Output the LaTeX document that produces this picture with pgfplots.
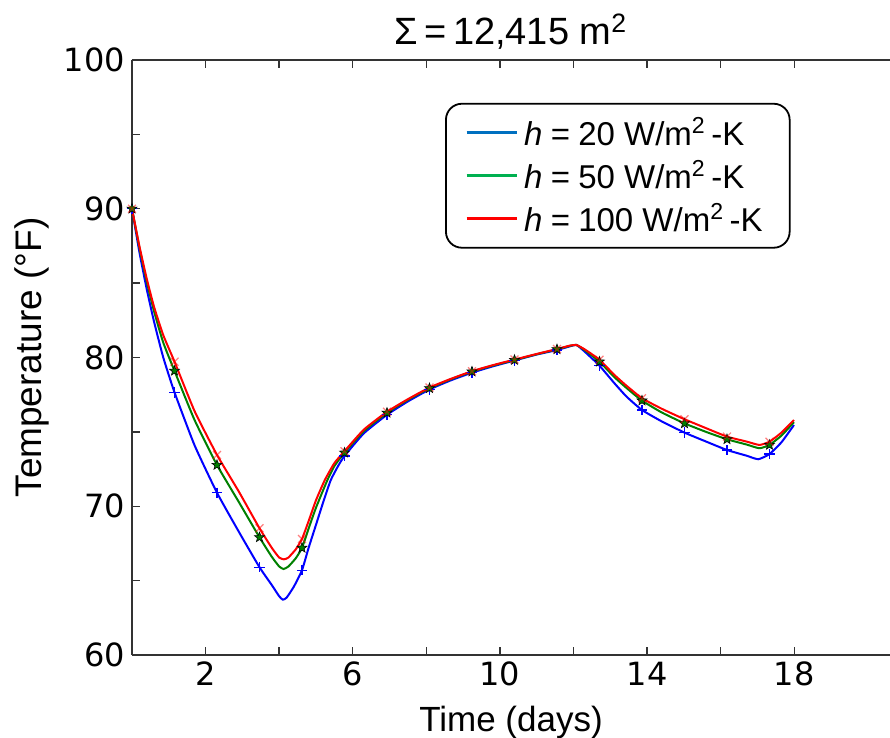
\documentclass[border=0pt]{standalone}
\usepackage{fontspec}
\setmainfont{Liberation Sans}
\newfontfamily\dejavu{DejaVu Sans}
\usepackage{pgfplots}
\pgfplotsset{compat=1.18}

\definecolor{mblue}{rgb}{0,0,1}
\definecolor{mgreen}{rgb}{0,0.5,0}
\definecolor{mred}{rgb}{1,0,0}
\definecolor{lblue}{HTML}{0070C0}
\definecolor{lgreen}{HTML}{00B050}
\definecolor{lred}{HTML}{FF0000}

% filled five-pointed star (matplotlib '*')
\pgfdeclareplotmark{fstar}{%
  \pgfpathmoveto{\pgfpointpolar{90}{\pgfplotmarksize}}%
  \pgfpathlineto{\pgfpointpolar{126}{0.42\pgfplotmarksize}}%
  \pgfpathlineto{\pgfpointpolar{162}{\pgfplotmarksize}}%
  \pgfpathlineto{\pgfpointpolar{198}{0.42\pgfplotmarksize}}%
  \pgfpathlineto{\pgfpointpolar{234}{\pgfplotmarksize}}%
  \pgfpathlineto{\pgfpointpolar{270}{0.42\pgfplotmarksize}}%
  \pgfpathlineto{\pgfpointpolar{306}{\pgfplotmarksize}}%
  \pgfpathlineto{\pgfpointpolar{342}{0.42\pgfplotmarksize}}%
  \pgfpathlineto{\pgfpointpolar{18}{\pgfplotmarksize}}%
  \pgfpathlineto{\pgfpointpolar{54}{0.42\pgfplotmarksize}}%
  \pgfpathclose
  \pgfusepathqfillstroke
}

\newcommand{\heq}{\textit{h}\hspace{0.25em}=\hspace{0.25em}}

\begin{document}
\begin{tikzpicture}
\begin{axis}[
    name=ax,
    scale only axis,
    width=379pt, height=297.5pt,
    xmin=0, xmax=20.6, ymin=60, ymax=100,
    axis x line=box, axis y line*=left,
    axis line style={black!80, line width=0.8pt},
    xtick={2,6,10,14,18}, minor xtick={4,8,12,16},
    ytick={60,70,80,90,100}, minor ytick={65,75,85,95},
    tick align=inside,
    major tick length=3.8pt, minor tick length=3.8pt,
    every tick/.style={black!80, line width=0.7pt},
    /pgf/number format/assume math mode=true,
    ticklabel style={font=\dejavu\fontsize{16}{19}\selectfont},
    xlabel={Time (days)},
    ylabel={Temperature (°F)},
    xlabel style={font=\fontsize{17.5}{21}\selectfont, at={(axis description cs:0.5,-0.128)}, anchor=base},
    ylabel style={font=\fontsize{18.5}{22}\selectfont, at={(axis description cs:-0.12,0.5)}, anchor=base},
    title={Σ\,=\,12,415 m\textsuperscript{2}},
    every axis title shift=0pt,
    title style={font=\fontsize{19}{22}\selectfont, at={(axis description cs:0.5,1)}, anchor=base, yshift=7.5pt},
    legend style={at={(0.413,0.928)}, anchor=north west, draw=black, line width=0.9pt,
        rounded corners=8pt, inner xsep=9.6pt, inner ysep=4.6pt,
        font=\fontsize{16.5}{19}\selectfont,
        nodes={inner sep=2.9pt, text height=13.5pt, text depth=0.5pt}, row sep=1.7pt},
    legend cell align=left,
    legend image code/.code={\draw[#1, line width=1.6pt] (0pt,0pt) -- (25pt,0pt);},
]
\addlegendimage{lblue}
\addlegendentry{\heq 20 W/m\textsuperscript{2}\,-K\hspace*{1pt}}
\addlegendimage{lgreen}
\addlegendentry{\heq 50 W/m\textsuperscript{2}\,-K\hspace*{1pt}}
\addlegendimage{lred}
\addlegendentry{\heq 100 W/m\textsuperscript{2}\,-K\hspace*{1pt}}

% h = 20
\addplot[mblue, line width=1pt, smooth, tension=0.3, forget plot] coordinates {
 (0,90) (0.2,87.1) (0.4,84.6) (0.6,82.4) (0.85,80.0) (1.155,77.66) (1.7,74.1)
 (2.31,70.91) (2.9,68.3) (3.465,65.9) (3.8,64.7) (4.0,63.95) (4.1,63.72) (4.2,63.85)
 (4.4,64.6) (4.62,65.7) (4.8,67.2) (5.0,68.75) (5.2,70.3) (5.4,71.75) (5.6,72.7)
 (5.775,73.38) (6.3,74.9) (6.93,76.15) (7.5,77.05) (8.085,77.85) (8.65,78.45)
 (9.24,78.98) (9.8,79.4) (10.395,79.8) (11.0,80.2) (11.55,80.5) (11.9,80.75)
 (12.08,80.84) (12.3,80.4) (12.705,79.45) (13.1,78.3) (13.44,77.37) (13.86,76.47)
 (14.4,75.7) (15.015,74.95) (15.6,74.35) (16.17,73.78) (16.7,73.4) (17.02,73.16)
 (17.325,73.51) (17.65,74.3) (17.99,75.46)};
\addplot[only marks, mark=+, mark size=2.6pt, mblue, mark options={line width=0.6pt}, forget plot] coordinates {
 (0,90) (1.155,77.66) (2.31,70.91) (3.465,65.9) (4.62,65.7) (5.775,73.38) (6.93,76.15)
 (8.085,77.85) (9.24,78.98) (10.395,79.8) (11.55,80.5) (12.705,79.45) (13.86,76.47)
 (15.015,74.95) (16.17,73.78) (17.325,73.51)};

% h = 50
\addplot[mgreen, line width=1pt, smooth, tension=0.3, forget plot] coordinates {
 (0,90) (0.2,87.4) (0.4,85.1) (0.6,83.1) (0.85,81.0) (1.155,79.1) (1.7,75.8)
 (2.31,72.77) (2.9,70.3) (3.465,67.91) (3.8,66.6) (4.0,65.95) (4.12,65.78) (4.25,65.95)
 (4.45,66.5) (4.62,67.2) (4.8,68.5) (5.0,69.9) (5.3,71.7) (5.5,72.7)
 (5.775,73.6) (6.3,75.05) (6.93,76.28) (7.5,77.15) (8.085,77.93) (8.65,78.52)
 (9.24,79.05) (9.8,79.45) (10.395,79.83) (11.0,80.22) (11.55,80.55) (11.9,80.78)
 (12.08,80.84) (12.3,80.5) (12.705,79.72) (13.1,78.7) (13.44,77.95) (13.86,77.1)
 (14.4,76.3) (15.015,75.57) (15.6,75.0) (16.17,74.5) (16.7,74.15) (17.05,73.9)
 (17.325,74.12) (17.65,74.75) (17.99,75.65)};
\addplot[only marks, mark=fstar, mark size=2.6pt, mark options={fill=mgreen, draw=black, line width=0.3pt}, forget plot] coordinates {
 (0,90) (1.155,79.1) (2.31,72.77) (3.465,67.91) (4.62,67.2) (5.775,73.6) (6.93,76.28)
 (8.085,77.93) (9.24,79.05) (10.395,79.83) (11.55,80.55) (12.705,79.72) (13.86,77.1)
 (15.015,75.57) (16.17,74.5) (17.325,74.12)};

% h = 100
\addplot[mred, line width=1pt, smooth, tension=0.3, forget plot] coordinates {
 (0,90) (0.2,87.5) (0.4,85.3) (0.6,83.4) (0.85,81.5) (1.155,79.72) (1.7,76.4)
 (2.31,73.45) (2.9,71.0) (3.465,68.52) (3.8,67.2) (4.0,66.55) (4.13,66.43) (4.25,66.55)
 (4.45,67.1) (4.62,67.8) (4.8,69.0) (5.0,70.4) (5.24,71.76) (5.5,72.9)
 (5.775,73.7) (6.3,75.15) (6.93,76.35) (7.5,77.2) (8.085,77.98) (8.65,78.55)
 (9.24,79.08) (9.8,79.48) (10.395,79.86) (11.0,80.24) (11.55,80.57) (11.9,80.8)
 (12.08,80.84) (12.3,80.55) (12.705,79.85) (13.1,78.85) (13.44,78.1) (13.86,77.26)
 (14.4,76.55) (15.015,75.85) (15.6,75.25) (16.17,74.68) (16.7,74.35) (17.05,74.12)
 (17.325,74.34) (17.65,74.95) (17.99,75.8)};
\addplot[only marks, mark=x, mark size=2.8pt, mred, mark options={opacity=0.5, line width=0.6pt}, forget plot] coordinates {
 (0,90) (1.155,79.72) (2.31,73.45) (3.465,68.52) (4.62,67.8) (5.775,73.7) (6.93,76.35)
 (8.085,77.98) (9.24,79.08) (10.395,79.86) (11.55,80.57) (12.705,79.85) (13.86,77.26)
 (15.015,75.85) (16.17,74.68) (17.325,74.34)};
\end{axis}
\pgfresetboundingbox
\path ([xshift=-66pt, yshift=-41.5pt]ax.south west) rectangle ([yshift=30pt]ax.north east);
\end{tikzpicture}
\end{document}
